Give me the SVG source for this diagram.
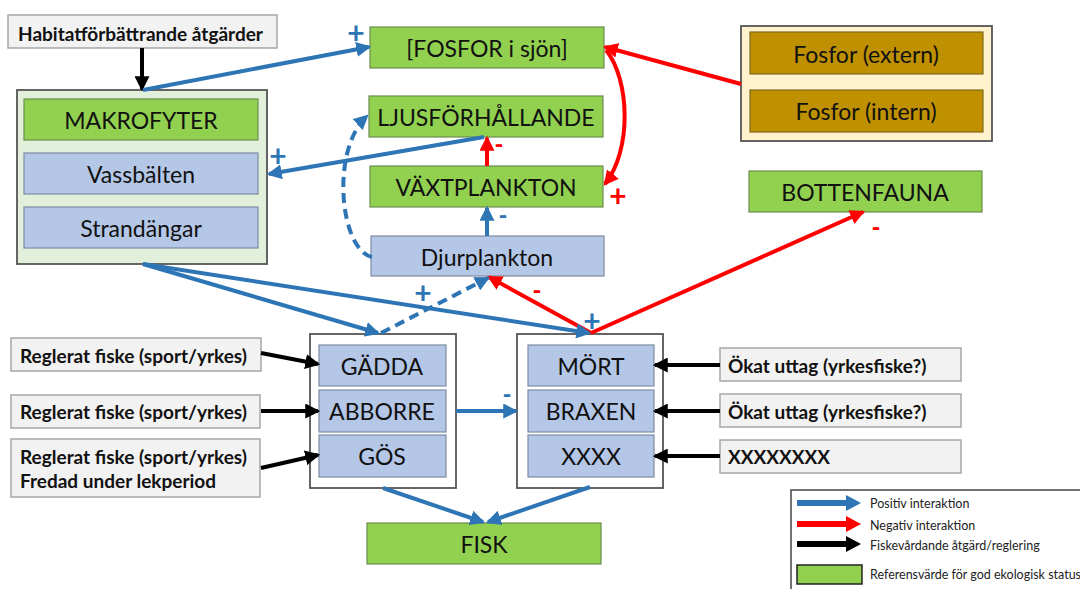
<svg xmlns="http://www.w3.org/2000/svg" width="1080" height="589" viewBox="0 0 1080 589">
<style>
.t{font-family:Lato,"Open Sans","Liberation Sans",sans-serif;fill:#111;text-anchor:middle;dominant-baseline:central}
.big{font-size:23px}
.b{font-family:Lato,"Liberation Sans",sans-serif;font-weight:bold;font-size:19px;fill:#111;dominant-baseline:central}
.lg{font-family:Lato,"Liberation Sans",sans-serif;font-size:12.5px;fill:#222;dominant-baseline:central}
.g{fill:#92d050;stroke:#6b8e4e;stroke-width:1.2}
.bl{fill:#b4c7e7;stroke:#7d8ba3;stroke-width:1.2}
.au{fill:#bf9000;stroke:#7f6a20;stroke-width:1.2}
.gr{fill:#f2f2f2;stroke:#a6a6a6;stroke-width:1.5}
.outer{stroke:#555;stroke-width:1.8}
.pos{stroke:#2e75b6;stroke-width:4;fill:none}
.neg{stroke:#f00;stroke-width:4;fill:none}
.blk{stroke:#000;stroke-width:4;fill:none}
.dash{stroke-dasharray:10 6}
.sp{font-family:Lato,"Liberation Sans",sans-serif;font-weight:bold;font-size:30px;text-anchor:middle;dominant-baseline:central}
.sm{font-family:Lato,"Liberation Sans",sans-serif;font-weight:900;font-size:24px;text-anchor:middle;dominant-baseline:central}
</style>
<defs>
<marker id="hb" viewBox="0 0 10 10" refX="8.5" refY="5" markerWidth="15" markerHeight="15" markerUnits="userSpaceOnUse" orient="auto"><path d="M0,0 L10,5 L0,10 z" fill="#2e75b6"/></marker>
<marker id="hr" viewBox="0 0 10 10" refX="8.5" refY="5" markerWidth="15" markerHeight="15" markerUnits="userSpaceOnUse" orient="auto"><path d="M0,0 L10,5 L0,10 z" fill="#f00"/></marker>
<marker id="hk" viewBox="0 0 10 10" refX="8.5" refY="5" markerWidth="15" markerHeight="15" markerUnits="userSpaceOnUse" orient="auto"><path d="M0,0 L10,5 L0,10 z" fill="#000"/></marker>
</defs>
<rect width="1080" height="589" fill="#fff"/>

<g id="habitat"><rect class="gr" x="8" y="15" width="269" height="33"/><text class="b" x="18" y="33">Habitatförbättrande åtgärder</text></g>

<g id="makrofyter-group">
<rect class="outer" x="17" y="90" width="250" height="174" fill="#e2efda"/>
<g id="makrofyter"><rect class="g" x="24" y="99" width="234" height="41"/><text class="t big" x="141" y="120">MAKROFYTER</text></g>
<g id="vassbalten"><rect class="bl" x="24" y="153" width="234" height="41"/><text class="t big" x="141" y="174">Vassbälten</text></g>
<g id="strandangar"><rect class="bl" x="24" y="207" width="234" height="41"/><text class="t big" x="141" y="228">Strandängar</text></g>
</g>

<g id="fosfor-sjon"><rect class="g" x="370" y="27" width="234" height="41"/><text class="t big" x="487" y="48">[FOSFOR i sjön]</text></g>
<g id="ljus"><rect class="g" x="369" y="96" width="234" height="41"/><text class="t big" x="486" y="117">LJUSFÖRHÅLLANDE</text></g>
<g id="vaxtplankton"><rect class="g" x="370" y="166" width="233" height="41"/><text class="t big" x="486" y="187">VÄXTPLANKTON</text></g>
<g id="djurplankton"><rect class="bl" x="371" y="236" width="233" height="40"/><text class="t big" x="487" y="257">Djurplankton</text></g>

<g id="fosfor-group">
<rect class="outer" x="741" y="26" width="251" height="115" fill="#fff2cc"/>
<g id="fosfor-extern"><rect class="au" x="750" y="32" width="233" height="42"/><text class="t big" x="866" y="54">Fosfor (extern)</text></g>
<g id="fosfor-intern"><rect class="au" x="750" y="90" width="233" height="42"/><text class="t big" x="866" y="111">Fosfor (intern)</text></g>
</g>

<g id="bottenfauna"><rect class="g" x="749" y="171" width="233" height="41"/><text class="t big" x="865" y="192">BOTTENFAUNA</text></g>

<g id="rovfisk-group">
<rect class="outer" x="310" y="334" width="146" height="154" fill="#fff"/>
<g id="gadda"><rect class="bl" x="319" y="345" width="127" height="41"/><text class="t big" x="382" y="366">GÄDDA</text></g>
<g id="abborre"><rect class="bl" x="319" y="390" width="127" height="42"/><text class="t big" x="382" y="411">ABBORRE</text></g>
<g id="gos"><rect class="bl" x="319" y="435" width="127" height="42"/><text class="t big" x="382" y="456">GÖS</text></g>
</g>

<g id="vitfisk-group">
<rect class="outer" x="517" y="334" width="146" height="154" fill="#fff"/>
<g id="mort"><rect class="bl" x="528" y="345" width="126" height="41"/><text class="t big" x="591" y="366">MÖRT</text></g>
<g id="braxen"><rect class="bl" x="528" y="390" width="126" height="42"/><text class="t big" x="591" y="411">BRAXEN</text></g>
<g id="xxxx"><rect class="bl" x="528" y="435" width="126" height="42"/><text class="t big" x="591" y="456">XXXX</text></g>
</g>

<g id="reglerat1"><rect class="gr" x="11" y="338" width="250" height="33"/><text class="b" x="20" y="355">Reglerat fiske (sport/yrkes)</text></g>
<g id="reglerat2"><rect class="gr" x="11" y="395" width="249" height="33"/><text class="b" x="20" y="411">Reglerat fiske (sport/yrkes)</text></g>
<g id="reglerat3"><rect class="gr" x="11" y="439" width="249" height="58"/><text class="b" x="20" y="456">Reglerat fiske (sport/yrkes)</text><text class="b" x="20" y="480">Fredad under lekperiod</text></g>

<g id="okat1"><rect class="gr" x="720" y="348" width="241" height="33"/><text class="b" x="728" y="365">Ökat uttag (yrkesfiske?)</text></g>
<g id="okat2"><rect class="gr" x="720" y="394" width="241" height="33"/><text class="b" x="728" y="411">Ökat uttag (yrkesfiske?)</text></g>
<g id="okat3"><rect class="gr" x="720" y="440" width="241" height="33"/><text class="b" x="728" y="456">XXXXXXXX</text></g>

<g id="fisk"><rect class="g" x="367" y="523" width="234" height="41"/><text class="t big" x="484" y="544">FISK</text></g>

<g id="connectors">
<line class="blk" x1="142" y1="48" x2="142" y2="89" marker-end="url(#hk)"/>
<line class="pos" x1="143" y1="90" x2="369" y2="47" marker-end="url(#hb)"/>
<line class="pos" x1="484" y1="137" x2="269" y2="174" marker-end="url(#hb)"/>
<path class="pos dash" d="M372,257 C340,250 330,150 367,116" marker-end="url(#hb)"/>
<line class="neg" x1="487" y1="166" x2="487" y2="138" marker-end="url(#hr)"/>
<line class="pos" x1="487" y1="236" x2="487" y2="208" marker-end="url(#hb)"/>
<path class="neg" d="M606,50 C630,80 632,150 605,184" marker-end="url(#hr)"/>
<line class="neg" x1="741" y1="84" x2="605" y2="47" marker-end="url(#hr)"/>
<line class="neg" x1="591" y1="333" x2="863" y2="212" marker-end="url(#hr)"/>
<line class="neg" x1="591" y1="333" x2="489" y2="277" marker-end="url(#hr)"/>
<line class="pos" x1="143" y1="264" x2="378" y2="333" marker-end="url(#hb)"/>
<line class="pos" x1="143" y1="264" x2="589" y2="333" marker-end="url(#hb)"/>
<line class="pos dash" x1="381" y1="333" x2="488" y2="278" marker-end="url(#hb)"/>
<line class="blk" x1="261" y1="353" x2="318" y2="364" marker-end="url(#hk)"/>
<line class="blk" x1="261" y1="411" x2="318" y2="411" marker-end="url(#hk)"/>
<line class="blk" x1="261" y1="468" x2="318" y2="455" marker-end="url(#hk)"/>
<line class="blk" x1="720" y1="365" x2="655" y2="365" marker-end="url(#hk)"/>
<line class="blk" x1="720" y1="411" x2="655" y2="411" marker-end="url(#hk)"/>
<line class="blk" x1="720" y1="456" x2="655" y2="456" marker-end="url(#hk)"/>
<line class="pos" x1="456" y1="411" x2="516" y2="411" marker-end="url(#hb)"/>
<line class="pos" x1="383" y1="488" x2="483" y2="522" marker-end="url(#hb)"/>
<line class="pos" x1="590" y1="487" x2="488" y2="522" marker-end="url(#hb)"/>
</g>

<g id="signs">
<text class="sp" x="356" y="32" fill="#2e75b6">+</text>
<text class="sp" x="278" y="155" fill="#2e75b6">+</text>
<text class="sm" x="499" y="143" fill="#f00">-</text>
<text class="sm" x="503" y="214" fill="#2e75b6">-</text>
<text class="sp" x="618" y="195" fill="#f00">+</text>
<text class="sm" x="876" y="226" fill="#f00">-</text>
<text class="sm" x="537" y="289" fill="#f00">-</text>
<text class="sp" x="423" y="292" fill="#2e75b6">+</text>
<text class="sp" x="592" y="320" fill="#2e75b6">+</text>
<text class="sm" x="507" y="393" fill="#2e75b6">-</text>
</g>

<g id="legend">
<rect x="791" y="490" width="300" height="110" fill="#fff" stroke="#444" stroke-width="1.5"/>
<line x1="797" y1="503" x2="848" y2="503" stroke="#2e75b6" stroke-width="6"/><path d="M846,495 L861,503 L846,511 z" fill="#2e75b6"/>
<line x1="797" y1="524" x2="848" y2="524" stroke="#f00" stroke-width="6"/><path d="M846,516 L861,524 L846,532 z" fill="#f00"/>
<line x1="797" y1="544" x2="848" y2="544" stroke="#000" stroke-width="6"/><path d="M846,536 L861,544 L846,552 z" fill="#000"/>
<rect x="797" y="565" width="65" height="19" fill="#92d050" stroke="#222" stroke-width="1.5"/>
<text class="lg" x="870" y="503">Positiv interaktion</text>
<text class="lg" x="870" y="525">Negativ interaktion</text>
<text class="lg" x="870" y="545">Fiskevårdande åtgärd/reglering</text>
<text class="lg" x="870" y="574">Referensvärde för god ekologisk status</text>
</g>
</svg>
